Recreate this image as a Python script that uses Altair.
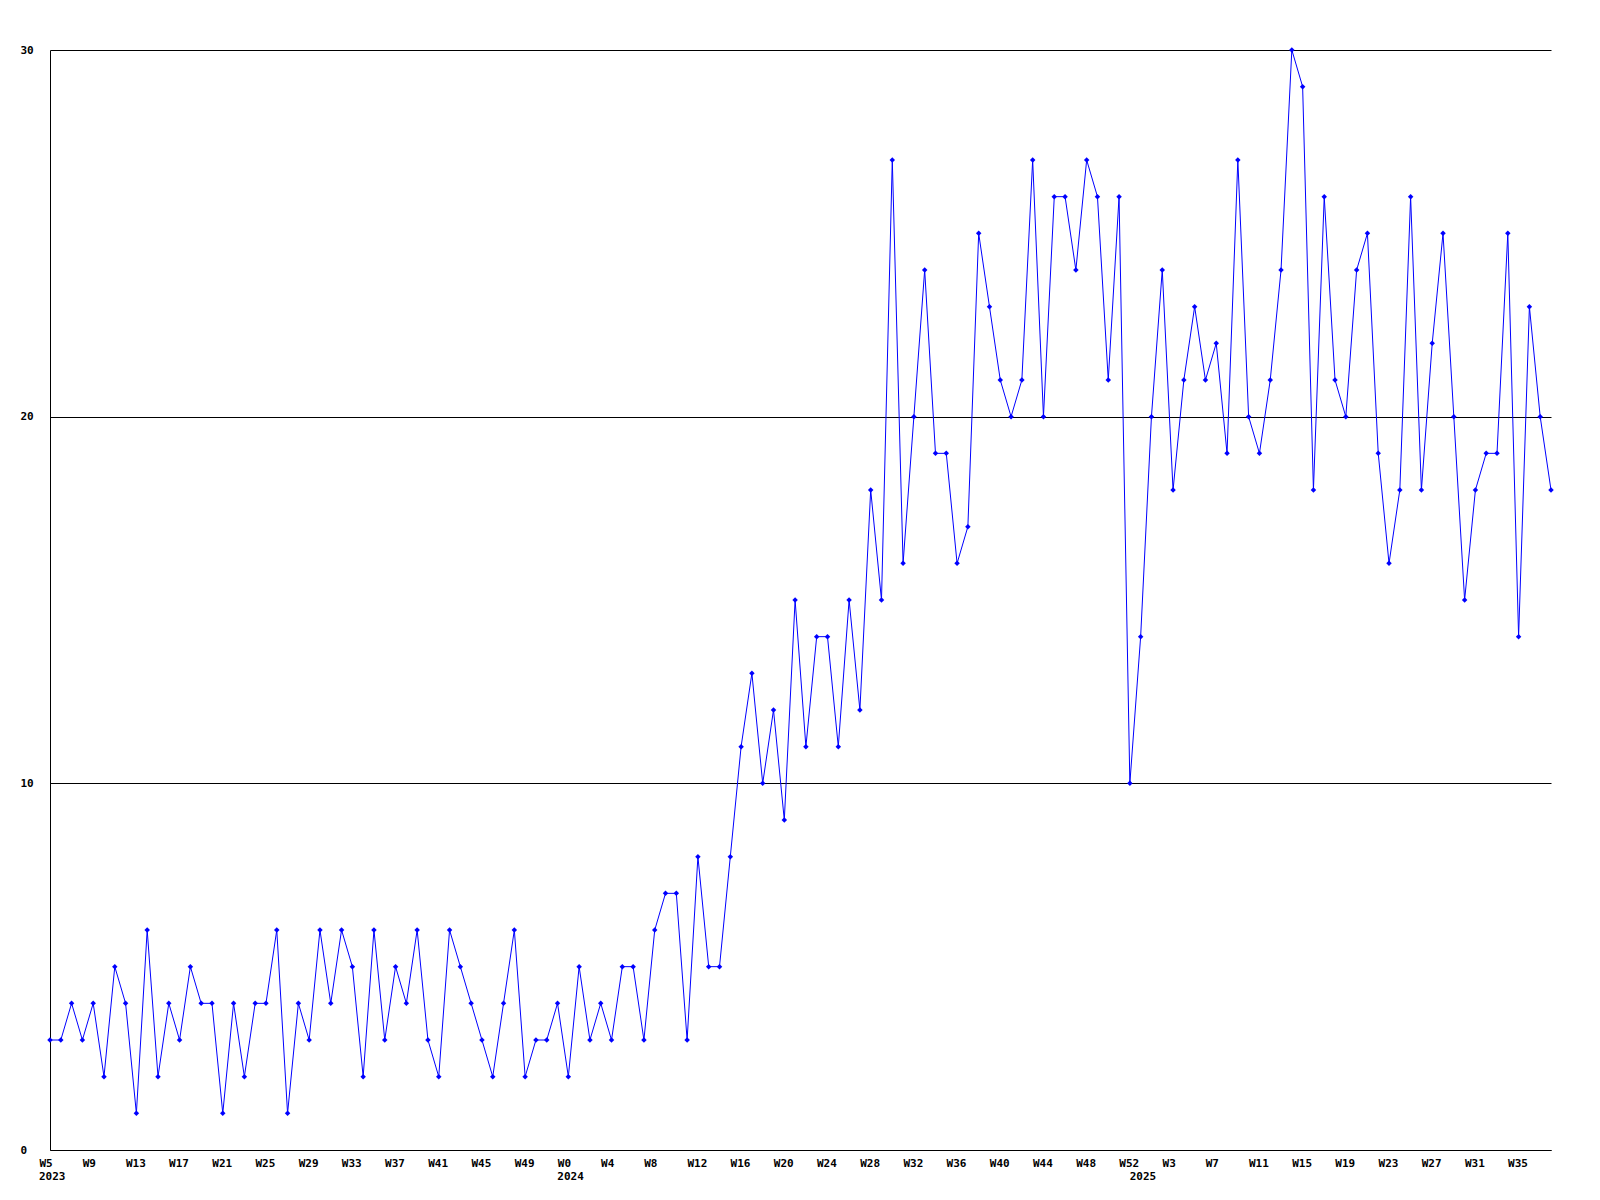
import altair as alt
import pandas as pd

# ---- data ----
values_2023 = [3, 3, 4, 3, 4, 2, 5, 4, 1, 6, 2, 4, 3, 5, 4, 4, 1, 4, 2, 4,
               4, 6, 1, 4, 3, 6, 4, 6, 5, 2, 6, 3, 5, 4, 6, 3, 2, 6, 5, 4,
               3, 2, 4, 6, 2, 3, 3, 4]
values_2024 = [2, 5, 3, 4, 3, 5, 5, 3, 6, 7, 7, 3, 8, 5, 5, 8, 11, 13, 10, 12,
               9, 15, 11, 14, 14, 11, 15, 12, 18, 15, 27, 16, 20, 24, 19, 19, 16, 17, 25, 23,
               21, 20, 21, 27, 20, 26, 26, 24, 27, 26, 21, 26, 10]
values_2025 = [14, 20, 24, 18, 21, 23, 21, 22, 19, 27, 20, 19, 21, 24, 30, 29, 18, 26, 21, 20,
               24, 25, 19, 16, 18, 26, 18, 22, 25, 20, 15, 18, 19, 19, 25, 14, 23, 20, 18]

weeks_2023 = list(range(5, 53))
weeks_2024 = list(range(0, 53))
weeks_2025 = list(range(0, 39))

years = ["2023", "2024", "2025"]
y_ticks = [0, 10, 20, 30]

values = values_2023 + values_2024 + values_2025
week_of = weeks_2023 + weeks_2024 + weeks_2025
year_of = [years[0]] * len(weeks_2023) + [years[1]] * len(weeks_2024) + [years[2]] * len(weeks_2025)
idx = list(range(len(values)))

df = pd.DataFrame({"idx": idx, "week": week_of, "year": year_of, "count": values})

year_start = [year_of.index(y) for y in years]
year_df = pd.DataFrame({"idx": year_start, "year_label": years})

tick_idx = list(range(0, 137, 4))
tick_labels = ["W%d" % week_of[i] for i in tick_idx]
label_expr = "[" + ",".join("'%s'" % t for t in tick_labels) + "][round(datum.value/4)]"

W, H = 1501, 1100
FONT = "DejaVu Sans Mono"
FS = 11
BLUE = "#0000ff"

x_enc = alt.X(
    "idx:Q",
    scale=alt.Scale(domain=[0, len(values) - 1], nice=False, zero=False),
    axis=alt.Axis(
        values=tick_idx, labelExpr=label_expr, ticks=False, grid=False,
        domainColor="black", domainWidth=1,
        labelFont=FONT, labelFontSize=FS, labelFontWeight="bold", labelColor="black",
        labelPadding=7, labelAngle=0, labelAlign="left", labelOffset=-11,
        labelOverlap=False, labelBound=False, labelFlush=False, title=None,
    ),
)
y_enc = alt.Y(
    "count:Q",
    scale=alt.Scale(domain=[0, 30], nice=False),
    axis=alt.Axis(
        values=y_ticks, ticks=False, grid=True, gridColor="black", gridOpacity=1,
        gridWidth=1, domainColor="black", domainWidth=1,
        labelFont=FONT, labelFontSize=FS, labelFontWeight="bold", labelColor="black",
        labelAlign="left", labelBaseline="middle", labelPadding=30,
        labelOverlap=False, labelBound=False, labelFlush=False, title=None,
    ),
)

base = alt.Chart(df).encode(x=x_enc, y=y_enc)
line = base.mark_line(color=BLUE, strokeWidth=1)
pts = base.mark_point(shape="diamond", filled=True, size=30, color=BLUE, opacity=1)

year_text = alt.Chart(year_df).mark_text(
    font=FONT, fontSize=FS, fontWeight="bold", baseline="top", align="left",
    dx=-11, color="black"
).encode(x=x_enc, y=alt.value(H + 21), text="year_label:N")

chart = (
    alt.layer(line, pts, year_text)
    .properties(
        width=W, height=H,
        autosize=alt.AutoSizeParams(type="none"),
        padding={"left": 42, "top": 42, "right": 41, "bottom": 50},
        background="white",
    )
    .configure_view(stroke=None)
)

chart.save("out.html", embed_options={"renderer": "svg", "actions": False})
